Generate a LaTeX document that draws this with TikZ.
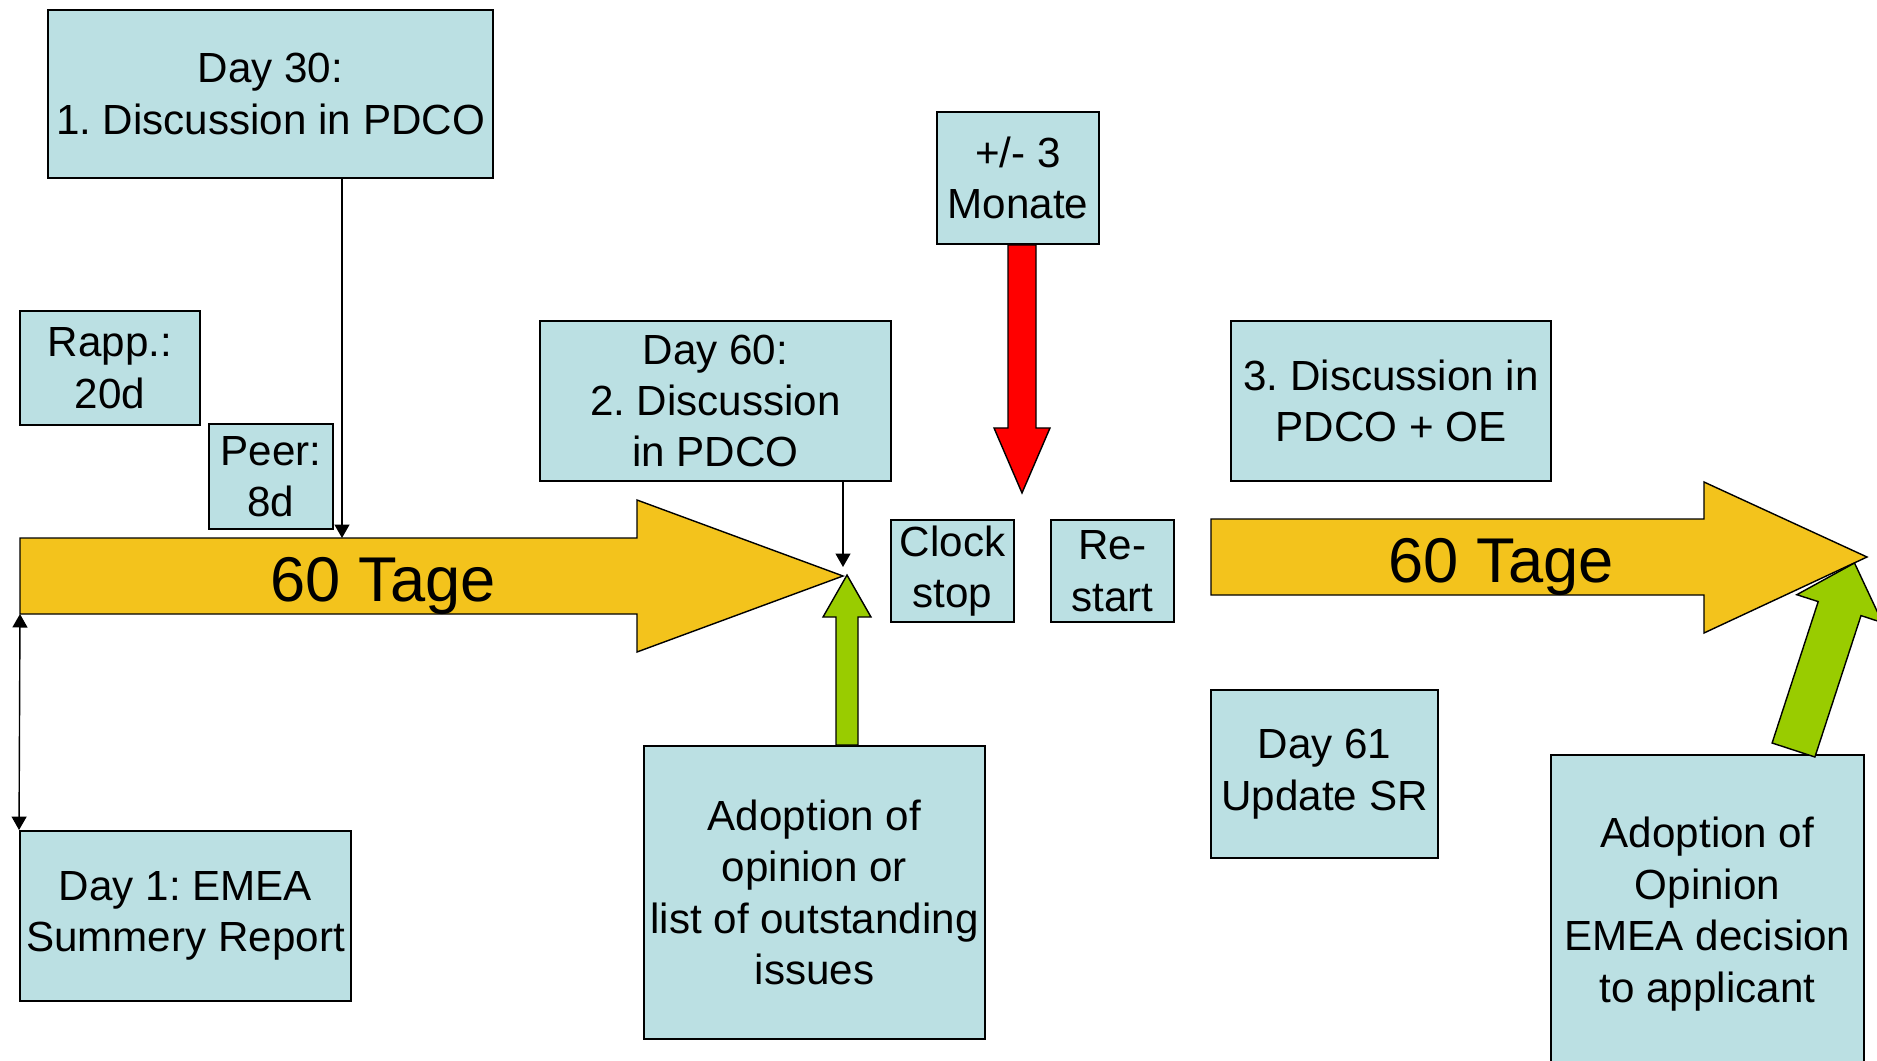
\documentclass[tikz,border=0pt]{standalone}
\usepackage{fontspec}
\setmainfont{Liberation Sans}
\frenchspacing
\usetikzlibrary{arrows.meta,calc}
\definecolor{boxblue}{HTML}{BBE0E3}
\definecolor{tagegold}{HTML}{F3C31C}
\definecolor{okgreen}{HTML}{99CC00}

\begin{document}
\begin{tikzpicture}[
    x=0.02cm, y=-0.02cm,
    >={Triangle[length=0.27cm,width=0.3cm]},
    box/.style ={
        draw=black,
        fill=boxblue,
        line width=1.1pt,
        inner sep=0pt,
        align=center,
        font=\fontsize{24}{29.3}\selectfont
    },
    blockarrow/.style ={
        draw=black,
        line width=0.8pt,
        line join=miter
    },
    pointer/.style ={
        line width=0.8pt
    },
    tage/.style ={
        inner sep=0pt,
        font=\fontsize{36}{43}\selectfont
    }
    ]
    \useasboundingbox (0,0) rectangle (1877,1061);

    % the two 60-day periods
    \draw[blockarrow, fill=tagegold] (20,538) -- (637,538) -- (637,500) -- (843,576) coordinate (tip1)
        -- (637,652) -- (637,614) -- (20,614) coordinate (tail1) -- cycle;
    \draw[blockarrow, fill=tagegold] (1211,519) -- (1704,519) -- (1704,482) -- (1867,557) coordinate (tip2)
        -- (1704,633) -- (1704,595) -- (1211,595) -- cycle;
    \node[tage] (tage1) at (383,586) {60 Tage};
    \node[tage] (tage2) at (1501,567) {60 Tage};

    \foreach \nm/ \pos/ \w/ \h/ \txt in {{d30/(270.5,94)/445/168/{Day 30:\\1. Discussion in PDCO}},
                                       {rapp/(110,368)/180/114/{Rapp.:\\20d}},
                                       {peer/(271,476.5)/124/105/{Peer:\\8d}},
                                       {d60/(715.5,401)/351/160/{Day 60:\\2. Discussion\\in PDCO}},
                                       {mon/(1018,178)/162/132/{+/- 3\\Monate}},
                                       {clock/(952.5,571)/123/102/{Clock\\stop}},
                                       {restart/(1112.5,571)/123/102/{Re-\\start}},
                                       {d3/(1391,401)/320/160/{3. Discussion in\\PDCO + OE}},
                                       {d61/(1324.5,774)/227/168/{Day 61\\Update SR}},
                                       {day1/(185.5,916)/331/170/{Day 1: EMEA\\Summery Report}},
                                       {adopt/(814.5,892.5)/341/293/{Adoption of\\opinion or\\list of outstanding\\issues}},
                                       {decide/(1707.5,914)/313/318/{Adoption of\\Opinion\\EMEA decision\\to applicant}}}
        \node[box, minimum width=\w*0.02cm, minimum height=\h*0.02cm] (\nm) at \pos {\txt};

    % thin pointers
    \coordinate (hit30) at (342,538);
    \draw[pointer, ->] (d30.south -| hit30) -- (hit30);
    \draw[pointer, ->] (d60.south -| tip1) -- ([yshift=0.18cm]tip1);
    \draw[pointer, <->] (tail1) -- (day1.north west);

    % block arrows
    \draw[blockarrow, fill=red] ([xshift=0.08cm]mon.south) ++(-14,0) -- ++(0,183) -- ++(-14,0) -- ++(28,65)
        -- ++(28,-65) -- ++(-14,0) -- ++(0,-183) -- cycle;
    \draw[blockarrow, fill=okgreen] ([xshift=0.08cm]adopt.north -| tip1) ++(-11,0) -- ++(0,-128) -- ++(-13,0)
        -- ++(24,-42) -- ++(24,42) -- ++(-13,0) -- ++(0,128) -- cycle;
    \draw[blockarrow, fill=okgreen] (1772.1,743) -- (1818.2,601.6) -- (1796.8,594.7) -- (1854.5,563)
        -- (1882.4,622.6) -- (1861,615.6) -- (1814.9,757) -- cycle;
\end{tikzpicture}
\end{document}
